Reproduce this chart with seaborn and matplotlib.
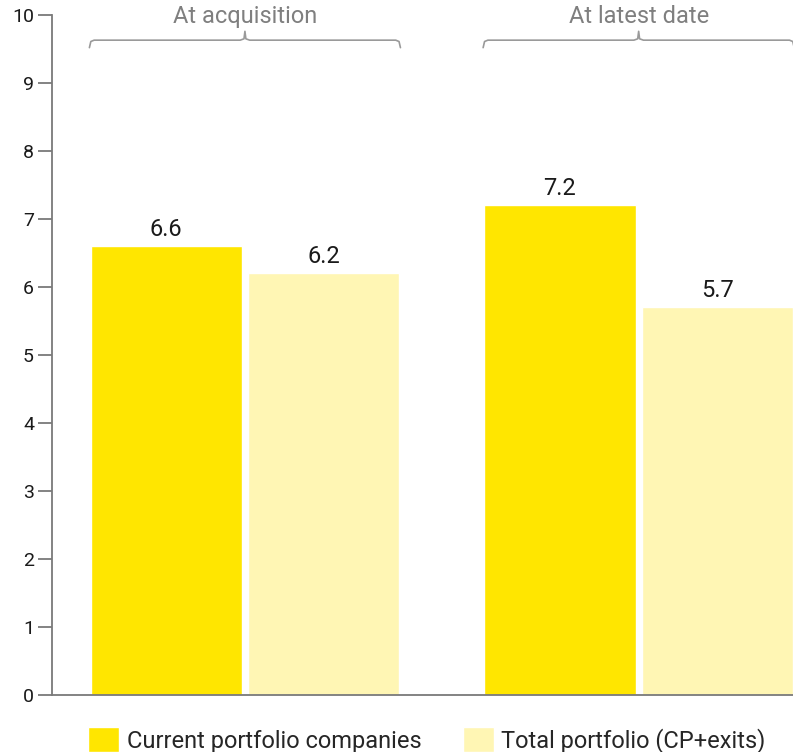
import matplotlib
matplotlib.use("Agg")
import matplotlib.pyplot as plt
import numpy as np
import pandas as pd
import seaborn as sns

# Chart data
periods = ["At acquisition", "At latest date"]
series = ["Current portfolio companies", "Total portfolio (CP+exits)"]
current_portfolio = [6.6, 7.2]
total_portfolio = [6.2, 5.7]
y_ticks = list(range(0, 11))

df = pd.DataFrame({
    "period": periods * 2,
    "series": [series[0]] * 2 + [series[1]] * 2,
    "value": current_portfolio + total_portfolio,
})

sns.set_theme(style="white")
plt.rcParams["font.family"] = ["Roboto", "DejaVu Sans"]

fig = plt.figure(figsize=(7.93, 7.52), dpi=100)
ax = fig.add_axes([52 / 793, 57 / 752, 741 / 793, 680 / 752])

palette = {series[0]: "#FFE600", series[1]: "#FFF6B4"}
sns.barplot(data=df, x="period", y="value", hue="series", order=periods,
            hue_order=series, palette=palette, width=0.8, gap=0.04,
            saturation=1, ax=ax, legend=True)

# value labels above bars
for container in ax.containers:
    ax.bar_label(container, fmt="%.1f", padding=4, fontsize=17, color="#1a1a1a")

ax.set_ylim(0, 10)
ax.set_xlim(-0.49, 1.392)
ax.set_yticks(y_ticks)
ax.set_yticklabels([str(t) for t in y_ticks], fontsize=14, color="#1a1a1a")
ax.set_xticks([])
ax.set_xlabel("")
ax.set_ylabel("")

for side in ["top", "right"]:
    ax.spines[side].set_visible(False)
for side in ["left", "bottom"]:
    ax.spines[side].set_color("#7a7a7a")
    ax.spines[side].set_linewidth(1.3)
ax.tick_params(axis="y", which="both", left=True, length=10, width=1.3,
               color="#7a7a7a", pad=3)

# curly brackets over each group with group titles
bracket_color = "#9a9a9a"
for i, name in enumerate(periods):
    x0, x1 = i - 0.395, i + 0.395
    xm = i
    y_line, y_end, y_peak = 9.63, 9.52, 9.76
    r = 0.012
    xs = [x0, x0 + r * 0.3, x0 + r, xm - r, xm - r * 0.2, xm, xm + r * 0.2, xm + r, x1 - r, x1 - r * 0.3, x1]
    ys = [y_end, y_line - 0.02, y_line, y_line, y_line + 0.02, y_peak, y_line + 0.02, y_line, y_line, y_line - 0.02, y_end]
    ax.plot(xs, ys, color=bracket_color, lw=1.2, clip_on=False, solid_capstyle="round")
    ax.text(xm, 9.98, name, ha="center", va="center", fontsize=17,
            color="#7f7f7f", clip_on=False)

# legend below the chart
handles, labels = ax.get_legend_handles_labels()
ax.get_legend().remove()
fig.legend(handles, labels, loc="lower left", bbox_to_anchor=(79 / 793, -0.014),
           ncol=2, frameon=False, fontsize=17, handlelength=1.3, handleheight=1.3,
           handletextpad=0.33, columnspacing=1.75, borderaxespad=0)

fig.savefig("out.png", dpi=100)
